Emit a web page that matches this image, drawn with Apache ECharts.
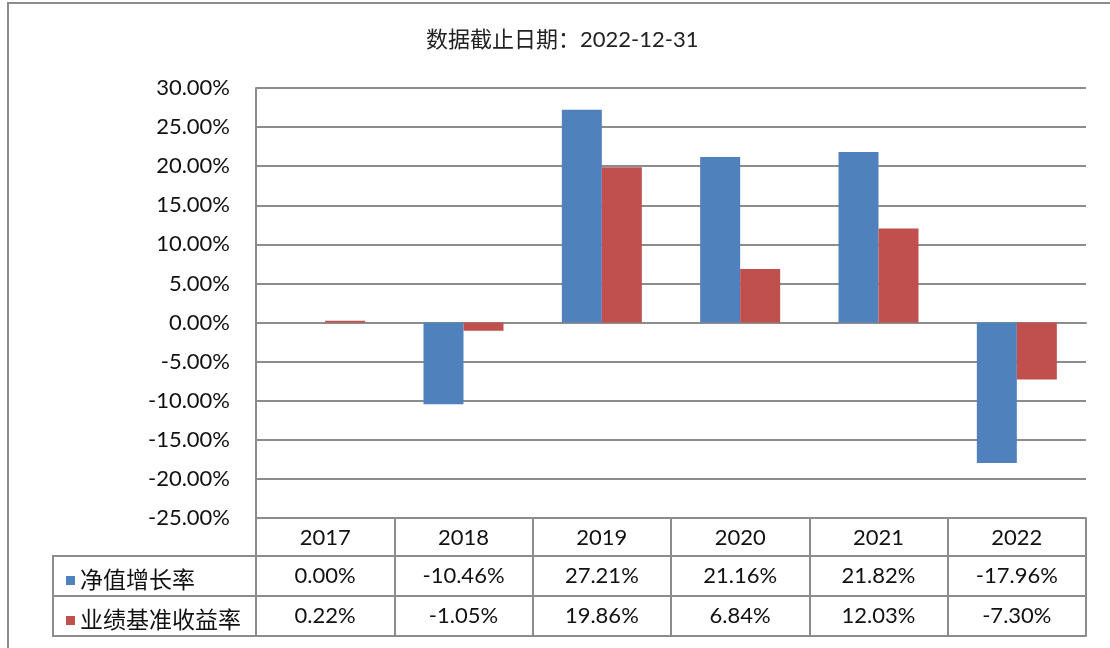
<!DOCTYPE html>
<html lang="zh">
<head>
<meta charset="utf-8"/>
<title>ECharts</title>
<script src="https://cdn.jsdelivr.net/npm/echarts@6/dist/echarts.min.js"></script>
</head>
<body style="margin:0;background:#fff;">
<div id="main" style="width:1110px;height:648px;"></div>
<script type="text/javascript">
// 数据
var years = ['2017', '2018', '2019', '2020', '2021', '2022'];
var navGrowth = [0.00, -10.46, 27.21, 21.16, 21.82, -17.96];
var benchReturn = [0.22, -1.05, 19.86, 6.84, 12.03, -7.30];
var seriesNames = ['净值增长率', '业绩基准收益率'];
var titleText = '数据截止日期：2022-12-31';

var FONT = 'Lato, "Noto Sans CJK SC", sans-serif';
var LINE = '#8c8c8c';
var gridL = 256, gridR = 1086, gridT = 88, gridB = 518;

function pct(v) { return v.toFixed(2) + '%'; }

// 表格行用的 x 轴
function tableAxis(data, offset, tickLen, margin) {
    return {
        type: 'category',
        data: data,
        position: 'bottom',
        offset: offset,
        axisLine: {show: true, onZero: false, lineStyle: {color: LINE, width: 2}},
        axisTick: {show: tickLen > 0, length: tickLen, interval: 0, lineStyle: {color: LINE, width: 2}},
        axisLabel: {show: margin !== null, interval: 0, margin: margin || 0,
            fontSize: 22, fontFamily: FONT, color: '#111'},
        splitLine: {show: false}
    };
}

var myChart = echarts.init(document.getElementById('main'));

var option = {
    backgroundColor: '#fff',
    animation: false,
    textStyle: {fontFamily: FONT},
    title: {
        text: titleText,
        left: 421,
        top: 24,
        textStyle: {fontSize: 22, fontWeight: 'normal', color: '#222', fontFamily: FONT}
    },
    legend: {
        orient: 'vertical',
        left: 61,
        top: 564,
        itemWidth: 9,
        itemHeight: 9,
        itemGap: 17,
        itemTextGap: 10,
        icon: 'rect',
        selectedMode: false,
        data: seriesNames,
        textStyle: {fontSize: 23, lineHeight: 23, color: '#111', fontFamily: FONT}
    },
    grid: {left: gridL, right: 1110 - gridR, top: gridT, bottom: 648 - gridB},
    xAxis: [
        {
            type: 'category',
            data: years,
            axisLine: {show: true, onZero: true, lineStyle: {color: LINE, width: 2}},
            axisTick: {show: false},
            axisLabel: {show: false}
        },
        tableAxis(years, 0, 38, 9),
        tableAxis(navGrowth.map(pct), 38, 40, 9),
        tableAxis(benchReturn.map(pct), 78, 40, 9),
        tableAxis(years, 118, 0, null)
    ],
    yAxis: {
        type: 'value',
        min: -25,
        max: 30,
        interval: 5,
        axisLine: {show: true, lineStyle: {color: LINE, width: 2}},
        axisTick: {show: false},
        axisLabel: {
            margin: 26,
            fontSize: 22,
            color: '#111',
            fontFamily: FONT,
            formatter: function (v) { return pct(v); }
        },
        splitLine: {show: true, lineStyle: {color: LINE, width: 2}}
    },
    series: [
        {
            name: seriesNames[0],
            type: 'bar',
            data: navGrowth,
            barWidth: 40,
            barGap: 0,
            itemStyle: {color: '#4f81bd'}
        },
        {
            name: seriesNames[1],
            type: 'bar',
            data: benchReturn,
            barWidth: 40,
            itemStyle: {color: '#c0504d'}
        }
    ],
    graphic: [
        {
            type: 'rect',
            shape: {x: 8, y: 3, width: 1200, height: 800},
            style: {fill: 'none', stroke: LINE, lineWidth: 2},
            silent: true
        },
        {
            type: 'rect',
            shape: {x: 53, y: 556, width: gridL - 53, height: 80},
            style: {fill: 'none', stroke: LINE, lineWidth: 2},
            silent: true
        },
        {
            type: 'line',
            shape: {x1: 53, y1: 596, x2: gridL, y2: 596},
            style: {stroke: LINE, lineWidth: 2},
            silent: true
        }
    ]
};

myChart.setOption(option);
</script>
</body>
</html>
